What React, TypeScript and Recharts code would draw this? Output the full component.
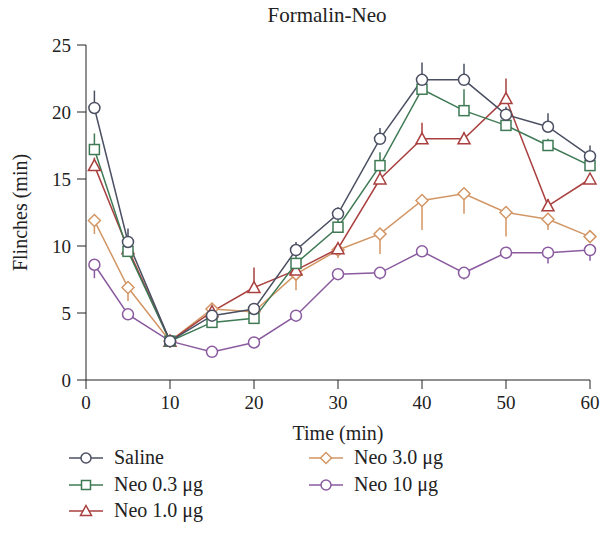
import { CartesianGrid, ErrorBar, Line, LineChart, XAxis, YAxis } from "recharts";

const TIMES = [1, 5, 10, 15, 20, 25, 30, 35, 40, 45, 50, 55, 60];

const SALINE = [20.3, 10.3, 2.9, 4.8, 5.3, 9.7, 12.4, 18.0, 22.4, 22.4, 19.8, 18.9, 16.7];
const NEO_03 = [17.2, 9.6, 2.9, 4.3, 4.6, 8.7, 11.4, 16.0, 21.7, 20.1, 19.0, 17.5, 16.0];
const NEO_10 = [16.0, 9.8, 2.9, 5.1, 6.9, 8.2, 9.8, 15.0, 18.0, 18.0, 21.0, 13.0, 15.0];
const NEO_30 = [11.9, 6.9, 2.9, 5.3, 5.1, 7.9, 9.7, 10.9, 13.4, 13.9, 12.5, 12.0, 10.7];
const NEO_100 = [8.6, 4.9, 2.9, 2.1, 2.8, 4.8, 7.9, 8.0, 9.6, 8.0, 9.5, 9.5, 9.7];

// error bar lengths (upward for the top three, downward for the bottom two)
const SALINE_ERR = [1.3, 1.0, 0.3, 0.4, 0.4, 0.6, 0.5, 0.8, 1.3, 1.2, 0.6, 1.0, 0.8];
const NEO_03_ERR = [1.2, 0.5, 0.3, 0.3, 0.3, 0.6, 0.6, 1.0, 0.8, 1.6, 0.5, 0.5, 0.5];
const NEO_10_ERR = [0.6, 0.5, 0.3, 0.3, 1.5, 0.5, 0.4, 0.6, 1.2, 0.5, 1.5, 0.5, 0.4];
const NEO_30_ERR = [1.0, 1.0, 0.3, 0.3, 0.3, 1.2, 0.6, 1.5, 2.2, 1.5, 1.8, 0.8, 0.4];
const NEO_100_ERR = [1.0, 0.3, 0.3, 0.3, 0.3, 0.3, 0.3, 0.5, 0.3, 0.5, 0.3, 0.8, 0.8];

const X_TICKS = [0, 10, 20, 30, 40, 50, 60];
const Y_TICKS = [0, 5, 10, 15, 20, 25];

const FONT = "'Liberation Serif', 'DejaVu Serif', serif";
const INK = "#222";

const SERIES = [
  { key: "saline", name: "Saline", color: "#4b4f62", shape: "circle" },
  { key: "neo03", name: "Neo 0.3 μg", color: "#3f7a55", shape: "square" },
  { key: "neo10", name: "Neo 1.0 μg", color: "#a9403f", shape: "triangle" },
  { key: "neo30", name: "Neo 3.0 μg", color: "#d29664", shape: "diamond" },
  { key: "neo100", name: "Neo 10 μg", color: "#8a5b9f", shape: "circle" },
];

const data = TIMES.map((t, i) => ({
  t,
  saline: SALINE[i],
  salineErr: [0, SALINE_ERR[i]],
  neo03: NEO_03[i],
  neo03Err: [0, NEO_03_ERR[i]],
  neo10: NEO_10[i],
  neo10Err: [0, NEO_10_ERR[i]],
  neo30: NEO_30[i],
  neo30Err: [NEO_30_ERR[i], 0],
  neo100: NEO_100[i],
  neo100Err: [NEO_100_ERR[i], 0],
}));

function Marker({ cx, cy, shape, color, r = 5 }: { cx: number; cy: number; shape: string; color: string; r?: number }) {
  const common = { fill: "#fff", stroke: color, strokeWidth: 1.5 };
  if (shape === "square") return <rect x={cx - r} y={cy - r} width={2 * r} height={2 * r} {...common} />;
  if (shape === "triangle")
    return <polygon points={`${cx},${cy - r - 1} ${cx + r + 1},${cy + r} ${cx - r - 1},${cy + r}`} {...common} />;
  if (shape === "diamond")
    return <polygon points={`${cx},${cy - r - 1} ${cx + r + 1},${cy} ${cx},${cy + r + 1} ${cx - r - 1},${cy}`} {...common} />;
  return <circle cx={cx} cy={cy} r={r + 0.5} {...common} />;
}

function LegendItem({ s, x, y }: { s: (typeof SERIES)[number]; x: number; y: number }) {
  return (
    <div style={{ position: "absolute", left: x, top: y, display: "flex", alignItems: "center" }}>
      <svg width={36} height={14} style={{ marginRight: 10 }}>
        <line x1={1} y1={7} x2={35} y2={7} stroke={s.color} strokeWidth={1.3} />
        <Marker cx={18} cy={7} shape={s.shape} color={s.color} r={4.5} />
      </svg>
      <span style={{ fontFamily: FONT, fontSize: 20, color: INK }}>{s.name}</span>
    </div>
  );
}

export default function App() {
  const tick = { fill: INK, fontSize: 19, fontFamily: FONT };
  const label = { fill: INK, fontSize: 20, fontFamily: FONT };
  return (
    <div style={{ position: "absolute", left: 0, top: 0, width: 611, height: 545, background: "#fff" }}>
      <div
        style={{
          position: "absolute",
          top: 3,
          left: 75,
          width: 504,
          textAlign: "center",
          fontFamily: FONT,
          fontSize: 21,
          color: INK,
        }}
      >
        Formalin-Neo
      </div>
      <LineChart width={611} height={545} data={data} margin={{ top: 45, right: 21, bottom: 105, left: 0 }}>
        <CartesianGrid stroke="none" />
        <XAxis
          dataKey="t"
          type="number"
          domain={[0, 60]}
          ticks={X_TICKS}
          stroke={INK}
          tickSize={9}
          tickMargin={7}
          height={60}
          tick={tick}
          label={{ value: "Time (min)", position: "insideBottom", offset: 0, ...label }}
        />
        <YAxis
          type="number"
          domain={[0, 25]}
          ticks={Y_TICKS}
          stroke={INK}
          tickSize={9}
          tickMargin={6}
          width={86}
          tick={tick}
          label={{
            value: "Flinches (min)",
            angle: -90,
            position: "insideLeft",
            offset: 20,
            style: { textAnchor: "middle" },
            ...label,
          }}
        />
        {SERIES.slice()
          .reverse()
          .map((s) => (
            <Line
              key={s.key}
              dataKey={s.key}
              name={s.name}
              type="linear"
              stroke={s.color}
              strokeWidth={1.5}
              isAnimationActive={false}
              dot={(p: any) => <Marker key={`${s.key}-${p.index}`} cx={p.cx} cy={p.cy} shape={s.shape} color={s.color} />}
            >
              <ErrorBar dataKey={`${s.key}Err`} width={0} stroke={s.color} strokeWidth={1.5} direction="y" />
            </Line>
          ))}
      </LineChart>
      <LegendItem s={SERIES[0]} x={68} y={446} />
      <LegendItem s={SERIES[1]} x={68} y={473} />
      <LegendItem s={SERIES[2]} x={68} y={499} />
      <LegendItem s={SERIES[3]} x={308} y={446} />
      <LegendItem s={SERIES[4]} x={308} y={473} />
    </div>
  );
}
